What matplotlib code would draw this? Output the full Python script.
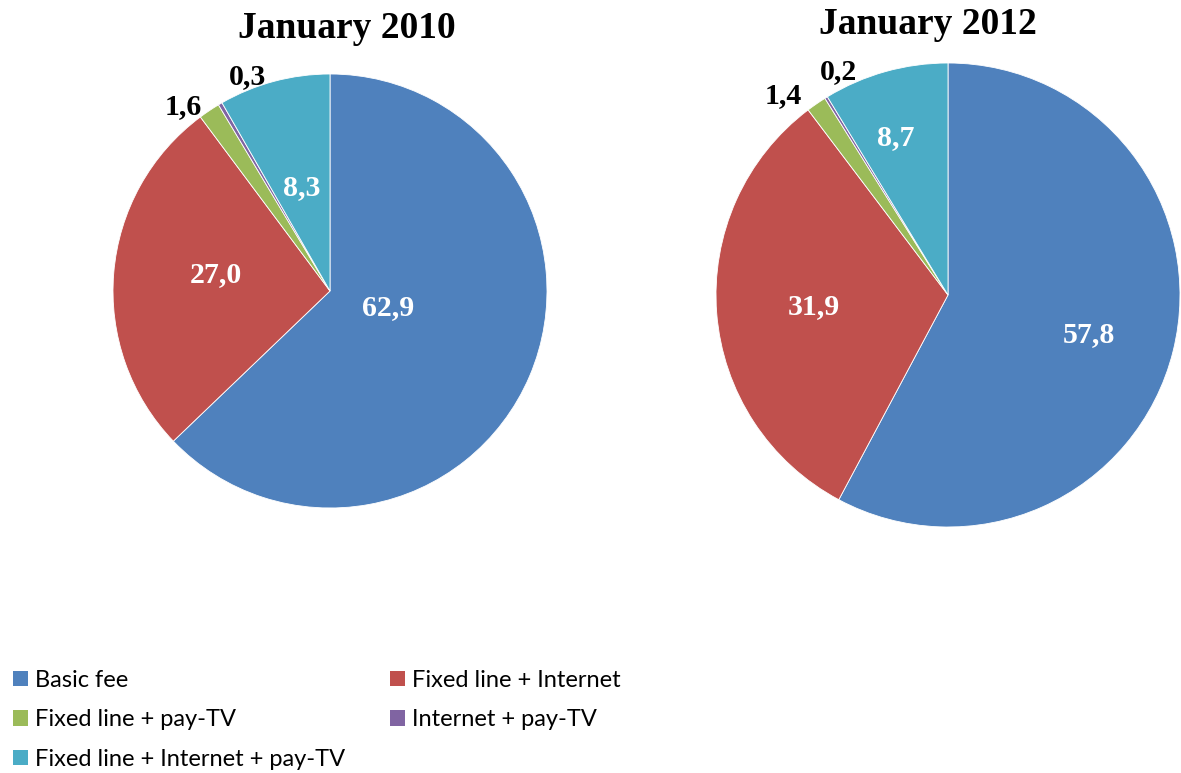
import matplotlib
matplotlib.use("Agg")
import matplotlib.pyplot as plt
from matplotlib.patches import Patch

categories = ["Basic fee", "Fixed line + Internet", "Fixed line + pay-TV",
              "Internet + pay-TV", "Fixed line + Internet + pay-TV"]
values_2010 = [62.9, 27.0, 1.6, 0.3, 8.3]
values_2012 = [57.8, 31.9, 1.4, 0.2, 8.7]
titles = ["January 2010", "January 2012"]
colors = ["#4F81BD", "#C0504D", "#9BBB59", "#8064A2", "#4BACC6"]

# label positions (relative to pie radius) and colours
label_pos_2010 = [(0.270, -0.075), (-0.525, 0.075), (-0.677, 0.848), (-0.378, 0.990), (-0.129, 0.475)]
label_pos_2012 = [(0.608, -0.170), (-0.578, -0.050), (-0.711, 0.858), (-0.474, 0.962), (-0.224, 0.677)]
label_colors = ["white", "white", "black", "black", "white"]

W, H = 1181, 773
fig = plt.figure(figsize=(W / 100, H / 100), dpi=100)

def fmt(v):
    return f"{v:.1f}".replace(".", ",")

def draw(cx, cy, r, vals, pos, title, title_x, title_y):
    ax = fig.add_axes([(cx - r) / W, (H - cy - r) / H, 2 * r / W, 2 * r / H])
    ax.pie(vals, colors=colors, startangle=90, counterclock=False,
           radius=1, wedgeprops=dict(linewidth=0.6, edgecolor="white"))
    ax.set_xlim(-1, 1)
    ax.set_ylim(-1, 1)
    ax.set_aspect("equal")
    ax.axis("off")
    for v, (x, y), c in zip(vals, pos, label_colors):
        ax.text(x, y, fmt(v), ha="center", va="center", color=c,
                fontsize=21.5, fontweight="bold", family="Liberation Serif")
    fig.text(title_x / W, 1 - title_y / H, title, ha="center", va="center",
             fontsize=27, fontweight="bold", family="Liberation Serif")

draw(330, 291, 217, values_2010, label_pos_2010, titles[0], 347, 28)
draw(948, 295, 232, values_2012, label_pos_2012, titles[1], 928, 24)

order = [0, 2, 4, 1, 3]
handles = [Patch(facecolor=colors[i], edgecolor="none") for i in order]
labels = [categories[i] for i in order]
fig.legend(handles, labels, ncol=2, loc="upper left",
           bbox_to_anchor=(13 / W, 1 - 670 / H), frameon=False,
           prop=dict(family="Lato", size=17), handlelength=0.63, handleheight=0.63,
           handletextpad=0.3, columnspacing=1.9, labelspacing=0.78,
           borderaxespad=0, borderpad=0)

fig.savefig("out.png", dpi=100)
